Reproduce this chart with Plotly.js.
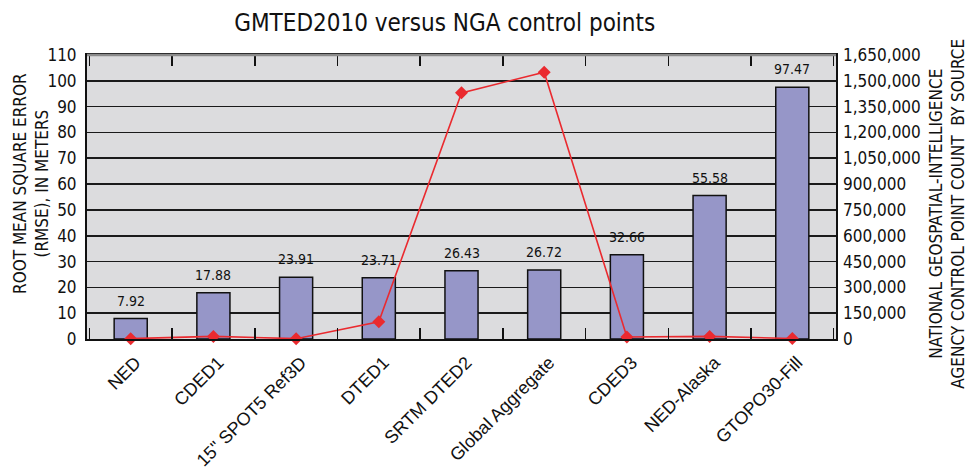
<!DOCTYPE html>
<html>
<head>
<meta charset="utf-8">
<script src="https://cdn.plot.ly/plotly-3.0.1.min.js"></script>
<style>html,body{margin:0;padding:0;background:#fff;}#chart{width:971px;height:471px;}</style>
</head>
<body>
<div id="chart"></div>
<script>
const categories = ["NED", "CDED1", "15\" SPOT5 Ref3D", "DTED1", "SRTM DTED2", "Global Aggregate", "CDED3", "NED-Alaska", "GTOPO30-Fill"];
const rmse = [7.92, 17.88, 23.91, 23.71, 26.43, 26.72, 32.66, 55.58, 97.47];
const pointCount = [2000, 15000, 2000, 100000, 1430000, 1550000, 12000, 15000, 3000];
const leftTicks = [0, 10, 20, 30, 40, 50, 60, 70, 80, 90, 100, 110];
const rightTicks = [0, 150000, 300000, 450000, 600000, 750000, 900000, 1050000, 1200000, 1350000, 1500000, 1650000];

const condensed = "'Liberation Sans Narrow', 'DejaVu Sans Condensed', sans-serif";
const regular = "'Liberation Sans', Arial, sans-serif";

const barTrace = {
  type: 'bar',
  x: categories,
  y: rmse,
  width: 0.4,
  marker: {color: '#9696c8', line: {color: '#111111', width: 1.5}},
  hoverinfo: 'x+y',
  yaxis: 'y'
};

const lineTrace = {
  type: 'scatter',
  mode: 'lines+markers',
  x: categories,
  y: pointCount,
  line: {color: '#ea2a2f', width: 1.6},
  marker: {symbol: 'diamond', size: 10, color: '#ea2a2f'},
  yaxis: 'y2',
  cliponaxis: false
};

const barLabels = categories.map((c, i) => ({
  x: c, y: rmse[i], xref: 'x', yref: 'y',
  text: rmse[i].toFixed(2), showarrow: false,
  yanchor: 'bottom', yshift: 8,
  font: {family: condensed, size: 14, color: '#111'}
}));

const layout = {
  width: 971, height: 471,
  margin: {l: 87, r: 135, t: 55, b: 132},
  paper_bgcolor: '#ffffff',
  plot_bgcolor: '#dcdcde',
  showlegend: false,
  title: {text: 'GMTED2010 versus NGA control points', x: 0.458, xanchor: 'center', y: 0.953, yanchor: 'middle',
          font: {family: condensed, size: 24, color: '#111'}},
  xaxis: {
    type: 'category',
    tickson: 'boundaries',
    ticks: 'inside', ticklen: 11, tickwidth: 1.5, tickcolor: '#111',
    showline: true, linecolor: '#111', linewidth: 2, mirror: 'ticks',
    showgrid: false,
    tickangle: -45,
    ticklabelshift: 5,
    ticklabelstandoff: 4,
    tickfont: {family: regular, size: 18, color: '#111'},
    fixedrange: true
  },
  yaxis: {
    range: [0, 110], tickvals: leftTicks, ticktext: leftTicks.map(String),
    showgrid: true, gridcolor: '#1a1a1a', gridwidth: 1.6,
    showline: true, linecolor: '#111', linewidth: 2, mirror: true,
    ticks: '', zeroline: false,
    tickfont: {family: condensed, size: 17, color: '#111'},
    ticklabelstandoff: 5
  },
  yaxis2: {
    overlaying: 'y', side: 'right',
    range: [0, 1650000], tickvals: rightTicks, ticktext: rightTicks.map(v => v.toLocaleString('en-US')),
    showgrid: false, zeroline: false, ticks: '', showline: false,
    tickfont: {family: condensed, size: 17, color: '#111'},
    ticklabelstandoff: 6
  },
  shapes: [
    {type: 'line', xref: 'paper', yref: 'paper', x0: 0, x1: 1, y0: 1, y1: 1, line: {color: '#8a8a8a', width: 2.5}, layer: 'above'}
  ],
  annotations: barLabels.concat([
    {text: 'ROOT MEAN SQUARE ERROR<br>(RMSE), IN METERS', xref: 'paper', yref: 'paper', x: -0.044, xanchor: 'right', y: 0.546, yanchor: 'middle',
     textangle: -90, showarrow: false, font: {family: condensed, size: 17, color: '#111'}},
    {text: 'NATIONAL GEOSPATIAL-INTELLIGENCE<br>AGENCY CONTROL POINT COUNT  BY SOURCE', xref: 'paper', yref: 'paper', x: 1.117, xanchor: 'left', y: 0.44, yanchor: 'middle',
     textangle: -90, showarrow: false, font: {family: condensed, size: 17, color: '#111'}}
  ])
};

Plotly.newPlot('chart', [barTrace, lineTrace], layout, {displayModeBar: false, staticPlot: true});
</script>
</body>
</html>
